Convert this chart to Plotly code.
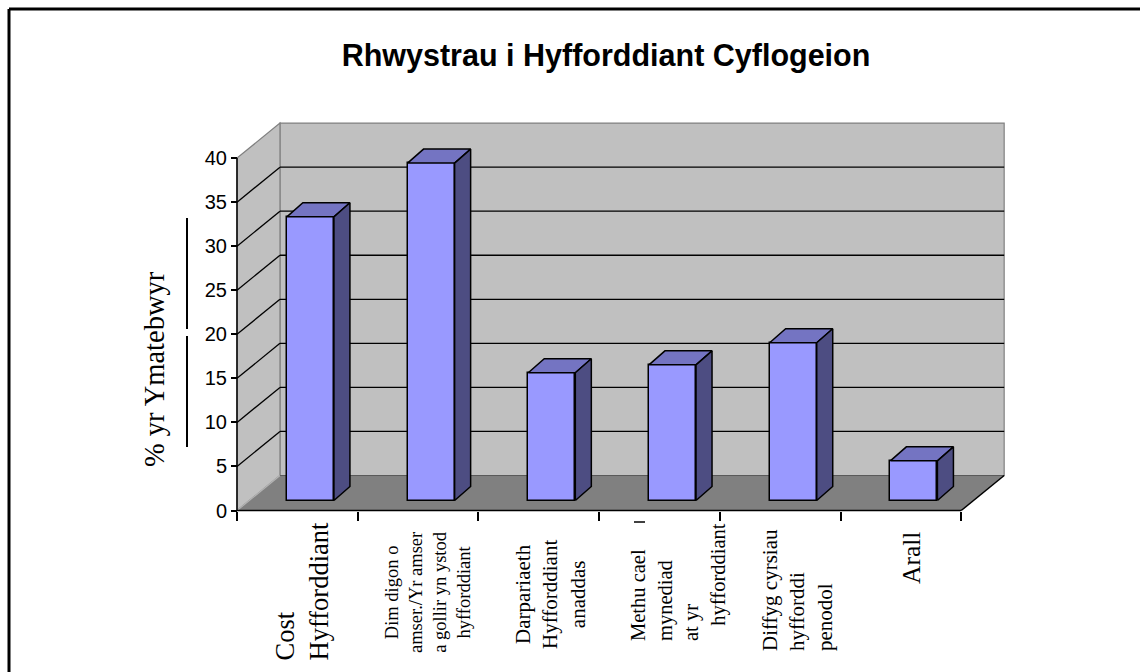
import plotly.graph_objects as go

# Survey data: barriers to employee training (% of respondents)
categories = [
    "Cost<br>Hyfforddiant",
    "Dim digon o<br>amser./Yr amser<br>a gollir yn ystod<br>hyfforddiant",
    "Darpariaeth<br>Hyfforddiant<br>anaddas",
    "Methu cael<br>mynediad<br>at yr<br>\u00a0\u00a0\u00a0hyfforddiant",
    "Diffyg cyrsiau<br>hyfforddi<br>penodol",
    "Arall",
]
values = [32.2, 38.3, 14.5, 15.4, 17.9, 4.5]
y_ticks = [0, 5, 10, 15, 20, 25, 30, 35, 40]

title_text = "Rhwystrau i Hyfforddiant Cyflogeion"
y_title = "% yr Ymatebwyr"

# ---- pseudo-3D geometry (data units) ----
N = len(values)
YMAX = 40
DX, DY = 0.356, 3.97          # wall depth offset
OFF_X, OFF_Y = 0.108, 1.135   # bar front-face offset into the depth
BDX, BDY = 0.1326, 1.59       # bar depth
BAR_W = 0.39

FRONT = "#9999FF"
TOP = "#7474C2"
SIDE = "#4D4D82"
WALL = "#C0C0C0"
FLOOR = "#808080"

# pixel frame of the plotting area
L, R, T, B = 225, 125, 110, 150
W_PX, H_PX = 1140 - L - R, 672 - T - B
UX, UY = 120.7, 8.81
X0PX, Y0PX = 237, 510.5
xr = [(L - X0PX) / UX, (L + W_PX - X0PX) / UX]
yr = [(Y0PX - (T + H_PX)) / UY, (Y0PX - T) / UY]


def px_to_paper(px, py):
    return (px - L) / W_PX, (T + H_PX - py) / H_PX


fig = go.Figure()

# bar faces (front via bar trace, top and side as filled polygons)
centers = [i + 0.5 + OFF_X for i in range(N)]
for c, v in zip(centers, values):
    x0, x1 = c - BAR_W / 2, c + BAR_W / 2
    yt = OFF_Y + v
    fig.add_trace(go.Scatter(
        x=[x0, x1, x1 + BDX, x0 + BDX, x0],
        y=[yt, yt, yt + BDY, yt + BDY, yt],
        mode="lines", fill="toself", fillcolor=TOP,
        line=dict(color="black", width=1.5), hoverinfo="skip", showlegend=False))
    fig.add_trace(go.Scatter(
        x=[x1, x1 + BDX, x1 + BDX, x1, x1],
        y=[OFF_Y, OFF_Y + BDY, yt + BDY, yt, OFF_Y],
        mode="lines", fill="toself", fillcolor=SIDE,
        line=dict(color="black", width=1.5), hoverinfo="skip", showlegend=False))

fig.add_trace(go.Bar(
    x=centers, y=values, base=OFF_Y, width=BAR_W,
    marker=dict(color=FRONT, line=dict(color="black", width=1.5)),
    hoverinfo="skip", showlegend=False))

shapes = []
# back wall and side wall
shapes.append(dict(type="path", xref="x", yref="y", layer="below",
                   path=f"M {DX},{DY} L {N + DX},{DY} L {N + DX},{YMAX + DY} L {DX},{YMAX + DY} Z",
                   fillcolor=WALL, line=dict(color="#808080", width=1.2)))
shapes.append(dict(type="path", xref="x", yref="y", layer="below",
                   path=f"M 0,0 L {DX},{DY} L {DX},{YMAX + DY} L 0,{YMAX} Z",
                   fillcolor=WALL, line=dict(color="#808080", width=1.2)))
# floor
shapes.append(dict(type="path", xref="x", yref="y", layer="below",
                   path=f"M 0,0 L {N},0 L {N + DX},{DY} L {DX},{DY} Z",
                   fillcolor=FLOOR, line=dict(width=0)))
# gridlines on the walls
for v in y_ticks[1:-1]:
    shapes.append(dict(type="line", xref="x", yref="y", layer="below",
                       x0=0, y0=v, x1=DX, y1=v + DY, line=dict(color="black", width=1.3)))
    shapes.append(dict(type="line", xref="x", yref="y", layer="below",
                       x0=DX, y0=v + DY, x1=N + DX, y1=v + DY, line=dict(color="black", width=1.3)))
# floor edges
shapes.append(dict(type="line", xref="x", yref="y", layer="below",
                   x0=0, y0=0, x1=DX, y1=DY, line=dict(color="#B4B4B4", width=1.2)))
shapes.append(dict(type="line", xref="x", yref="y", layer="below",
                   x0=DX, y0=DY, x1=N + DX, y1=DY, line=dict(color="#5A5A5A", width=1)))
shapes.append(dict(type="line", xref="x", yref="y",
                   x0=N, y0=0, x1=N + DX, y1=DY, line=dict(color="black", width=1.5)))
# axis lines
shapes.append(dict(type="line", xref="x", yref="y",
                   x0=0, y0=0, x1=N, y1=0, line=dict(color="black", width=1.5)))
shapes.append(dict(type="line", xref="x", yref="y",
                   x0=0, y0=0, x1=0, y1=YMAX, line=dict(color="black", width=1.5)))

# vertical strokes beside the axis title
for (ya, yb) in [(218, 329), (336, 447)]:
    xa, pa = px_to_paper(187, ya)
    _, pb = px_to_paper(187, yb)
    shapes.append(dict(type="line", xref="paper", yref="paper",
                       x0=xa, y0=pa, x1=xa, y1=pb, line=dict(color="black", width=2)))
# short dash above the fourth label
da, dy_ = px_to_paper(634, 522)
db, _ = px_to_paper(645, 522)
shapes.append(dict(type="line", xref="paper", yref="paper",
                   x0=da, y0=dy_, x1=db, y1=dy_, line=dict(color="black", width=1.5)))

# chart frame
fx0, fy0 = px_to_paper(9, 9)
fx1, _ = px_to_paper(1145, 9)
_, fy1 = px_to_paper(9, 680)
shapes.append(dict(type="line", xref="paper", yref="paper",
                   x0=fx0, y0=fy0, x1=fx1, y1=fy0, line=dict(color="black", width=3)))
shapes.append(dict(type="line", xref="paper", yref="paper",
                   x0=fx0, y0=fy0, x1=fx0, y1=fy1, line=dict(color="black", width=3)))

# category labels, rotated
label_specs = [
    # (center px x, anchor px y, yanchor, align, font size)
    (301, 663, "bottom", "left", 26.5),
    (428, 592, "middle", "center", 18.5),
    (550, 595, "middle", "center", 21),
    (678, 643, "bottom", "left", 20.5),
    (797, 653, "bottom", "left", 21),
    (911, 530, "top", "left", 25.5),
]
annotations = []
for text, (cx, ay, yanc, al, fs) in zip(categories, label_specs):
    ax_, ay_ = px_to_paper(cx, ay)
    annotations.append(dict(
        text=text, xref="paper", yref="paper", x=ax_, y=ay_,
        xanchor="center", yanchor=yanc, align=al, textangle=-90, showarrow=False,
        font=dict(family="Liberation Serif", size=fs, color="black")))

tx, ty = px_to_paper(154, 369)
annotations.append(dict(
    text=y_title, xref="paper", yref="paper", x=tx, y=ty,
    xanchor="center", yanchor="middle", textangle=-90, showarrow=False,
    font=dict(family="Liberation Serif", size=28.5, color="black")))

fig.update_layout(
    width=1140, height=672,
    margin=dict(l=L, r=R, t=T, b=B, autoexpand=False),
    paper_bgcolor="white", plot_bgcolor="white",
    bargap=0,
    title=dict(text=f"<b>{title_text}</b>", x=606 / 1140, xanchor="center",
               y=1 - 55 / 672, yanchor="middle",
               font=dict(family="Liberation Sans", size=30.5, color="black")),
    shapes=shapes,
    annotations=annotations,
    xaxis=dict(range=xr, showgrid=False, zeroline=False, showline=False,
               tickvals=list(range(N + 1)), ticks="outside", ticklen=9,
               tickwidth=1.5, tickcolor="black", showticklabels=False,
               anchor="free", position=px_to_paper(0, Y0PX)[1]),
    yaxis=dict(range=yr, showgrid=False, zeroline=False, showline=False,
               tickvals=y_ticks, ticks="outside", ticklen=6, tickwidth=1.5,
               tickcolor="black",
               tickfont=dict(family="Liberation Sans", size=20, color="black"),
               anchor="free", position=px_to_paper(X0PX, 0)[0]),
)

fig.write_html("out.html")
